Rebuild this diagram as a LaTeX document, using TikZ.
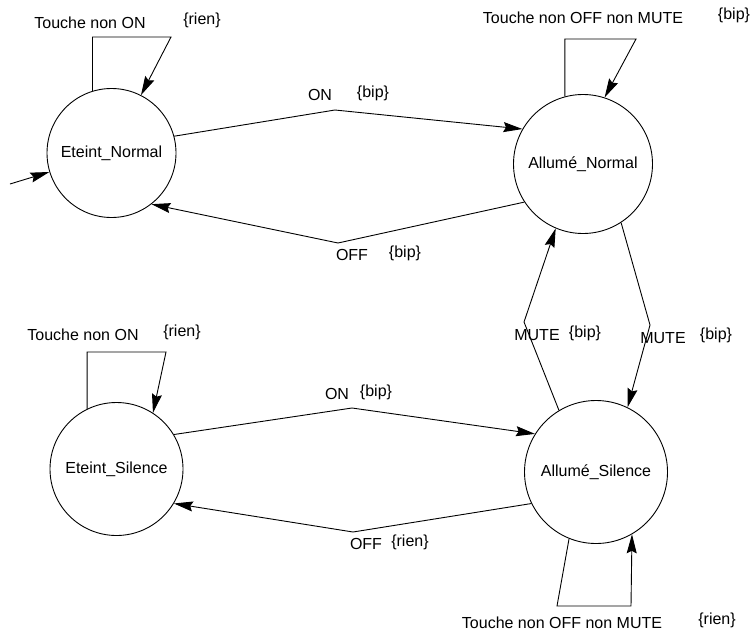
\documentclass[tikz,border=0pt]{standalone}
\usepackage{fontspec}
\setmainfont{Liberation Sans}
\usetikzlibrary{arrows.meta}
\begin{document}
\begin{tikzpicture}[x=1pt,y=-1pt,
  every node/.style={font=\fontsize{16}{19}\selectfont},
  state/.style={draw,circle,line width=0.9pt,inner sep=0pt},
  lbl/.style={inner sep=0pt,anchor=center},
  conn/.style={line width=0.9pt,-{Stealth[length=19pt,width=10pt,inset=2.5pt]}},
  line join=miter]
\useasboundingbox (0,0) rectangle (751,634);
% states
\node[state,minimum size=129pt] (EN) at (111.5,153) {Eteint\_Normal};
\node[state,minimum size=139pt] (AN) at (583,164) {Allumé\_Normal};
\node[state,minimum size=133pt] (ES) at (116.5,469) {Eteint\_Silence};
\node[state,minimum size=143pt] (AS) at (596,472) {Allumé\_Silence};
% helper coordinates
\coordinate (init) at (10,184);
\coordinate (kONn) at (335,110);
\coordinate (kOFFn) at (338,243);
\coordinate (kONs) at (352,408);
\coordinate (kOFFs) at (353,532);
\coordinate (kMup) at (524,322);
\coordinate (kMdn) at (650,325);
\coordinate (lEN) at (171,37);
\coordinate (lAN) at (636,39);
\coordinate (lES) at (166,352);
\coordinate (lAS1) at (557,606);
\coordinate (lAS2) at (631,606);
% connectors
\draw[conn] (init) -- (EN.197.2);
\draw[conn] (EN.15.8) -- (kONn) -- (AN.150.9);
\draw[conn] (AN.213) -- (kOFFn) -- (EN.308.5);
\draw[conn] (ES.31.6) -- (kONs) -- (AS.148.1);
\draw[conn] (AS.206.2) -- (kOFFs) -- (ES.329);
\draw[conn] (AS.121.9) -- (kMup) -- (AN.247.4);
\draw[conn] (AN.303.5) -- (kMdn) -- (AS.64.5);
\draw[conn] (EN.107.2) |- (lEN) -- (EN.63.8);
\draw[conn] (AN.105.8) |- (lAN) -- (AN.72.6);
\draw[conn] (ES.116.2) |- (lES) -- (ES.57.6);
\draw[conn] (AS.248.5) -- (lAS1) -- (lAS2) -- (AS.300.3);
% labels
\node[lbl] (t1) at (90,23) {Touche non ON};
\node[lbl] (t1b) at (202,20) {\{rien\}};
\node[lbl] (t2) at (583,18) {Touche non OFF non MUTE};
\node[lbl] (t2b) at (734,15) {\{bip\}};
\node[lbl] (t3) at (83,335) {Touche non ON};
\node[lbl] (t3b) at (182,332) {\{rien\}};
\node[lbl] (t4) at (562,623) {Touche non OFF non MUTE};
\node[lbl] (t4b) at (717,620) {\{rien\}};
\node[lbl] (on1) at (320,95) {ON};
\node[lbl] (on1b) at (373,93) {\{bip\}};
\node[lbl] (off1) at (352,255) {OFF};
\node[lbl] (off1b) at (405,253) {\{bip\}};
\node[lbl] (on2) at (337,394) {ON};
\node[lbl] (on2b) at (376,392) {\{bip\}};
\node[lbl] (off2) at (366,544) {OFF};
\node[lbl] (off2b) at (410,542) {\{rien\}};
\node[lbl] (m1) at (537,335) {MUTE};
\node[lbl] (m1b) at (585,333) {\{bip\}};
\node[lbl] (m2) at (663,338) {MUTE};
\node[lbl] (m2b) at (716,335) {\{bip\}};
\end{tikzpicture}
\end{document}
